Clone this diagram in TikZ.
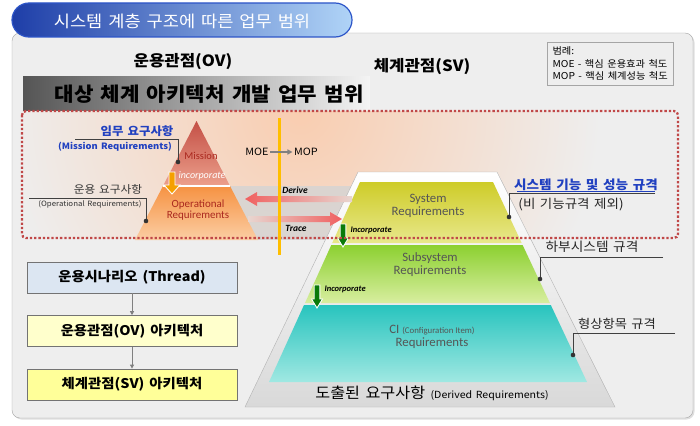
\documentclass[tikz,border=0pt]{standalone}
\usepackage{fontspec}
\setmainfont{Noto Sans CJK KR}[FakeStretch=1.08, WordSpace=1.5]
\newfontfamily\engfont{Carlito}
\usepackage{tikz}
\usetikzlibrary{arrows.meta, positioning, calc, shadows}
\usepackage{xcolor}
\definecolor{panelbg}{RGB}{238,238,238}
\definecolor{panelline}{RGB}{165,165,165}
\definecolor{titledark}{RGB}{30,62,168}
\definecolor{titlelight}{RGB}{176,212,247}
\definecolor{titleline}{RGB}{45,85,200}
\definecolor{bannerdark}{RGB}{85,85,85}
\definecolor{bannerlight}{RGB}{244,244,244}
\definecolor{dotred}{RGB}{192,72,72}
\definecolor{peach}{RGB}{249,205,176}
\definecolor{bandgray}{RGB}{212,212,212}
\definecolor{yellowline}{RGB}{255,190,0}
\definecolor{missiontop}{RGB}{196,80,70}
\definecolor{missionbot}{RGB}{236,160,140}
\definecolor{opertop}{RGB}{246,146,66}
\definecolor{operbot}{RGB}{251,206,164}
\definecolor{redtext}{RGB}{170,40,30}
\definecolor{arrowred}{RGB}{240,96,96}
\definecolor{arrowfade}{RGB}{232,214,208}
\definecolor{orangearrow}{RGB}{245,160,0}
\definecolor{greenarrow}{RGB}{10,122,10}
\definecolor{calloutblue}{RGB}{32,64,192}
\definecolor{layertext}{RGB}{85,85,85}
\definecolor{systop}{RGB}{206,204,40}
\definecolor{sysbot}{RGB}{232,232,140}
\definecolor{subtop}{RGB}{140,208,48}
\definecolor{subbot}{RGB}{216,238,160}
\definecolor{citop}{RGB}{40,196,190}
\definecolor{cibot}{RGB}{160,232,226}
\definecolor{threadfill}{RGB}{220,230,242}
\definecolor{ovfill}{RGB}{255,255,204}
\definecolor{svfill}{RGB}{255,255,153}

\begin{document}
\begin{tikzpicture}[x=1pt, y=-1pt,
  archbox/.style={draw=gray!90!black, minimum width=210pt, minimum height=31pt,
    font=\fontsize{13.3}{15}\selectfont\bfseries},
  boxarrow/.style={-{Triangle[length=4pt, width=4pt]}, gray, line width=1pt},
  callout/.style={black!75, line width=0.8pt},
  layerlabel/.style={layertext, align=center, font=\engfont\fontsize{12.8}{13}\selectfont},
  inclabel/.style={anchor=west, font=\engfont\itshape\bfseries\fontsize{8.5}{9}\selectfont}]
  \useasboundingbox (0,0) rectangle (700,425);

  % panel and title tab
  \draw[panelline, fill=panelbg, rounded corners=8pt,
    drop shadow={opacity=0.25, shadow xshift=1.5pt, shadow yshift=-1.5pt}] (12,33) rectangle (693,418);
  \shade[left color=titledark, right color=titlelight, draw=titleline, line width=1.2pt,
    rounded corners=17pt] (12,3) rectangle (352,37);
  \node[white, font=\fontsize{16.3}{18}\selectfont] (title) at (182,21) {시스템 계층 구조에 따른 업무 범위};

  \node[font=\fontsize{15.5}{17}\selectfont\bfseries] (ovlabel) at (183,62) {운용관점(OV)};
  \node[font=\fontsize{15.5}{17}\selectfont\bfseries] (svlabel) at (422,67) {체계관점(SV)};
  \node[draw=panelline, fill=panelbg, anchor=north west, align=left, inner sep=2.5pt,
    minimum width=126pt, minimum height=43pt, font=\fontsize{9.5}{12.5}\selectfont] (legend) at (547,42)
    {범례:\\MOE - 핵심 운용효과 척도\\MOP - 핵심 체계성능 척도};

  % banner
  \shade[left color=bannerdark, right color=bannerlight] (23,77) rectangle (370,111);
  \node[anchor=west, font=\fontsize{19.6}{22}\selectfont\bfseries] (banner) at (51,94) {대상 체계 아키텍처 개발 업무 범위};

  % scope background
  \begin{scope}
    \clip (22,111) rectangle (678,238);
    \shade[inner color=peach, outer color=panelbg] (300,112) circle (300);
  \end{scope}
  \fill[bandgray, opacity=0.8] (196,186) rectangle (362,240);

  % operational pyramid
  \shade[top color=missiontop, bottom color=missionbot] (196.5,121) -- (230,186) -- (163,186) -- cycle;
  \shade[top color=opertop, bottom color=operbot] (163,186) -- (230,186) -- (258,240) -- (135,240) -- cycle;
  \draw[white, line width=1.2pt] (163,186) -- (230,186);
  \node[redtext, font=\engfont\fontsize{10.5}{11}\selectfont] (mission) at (201,156) {Mission};
  \node[white, font=\engfont\itshape\fontsize{10}{11}\selectfont] (incmission) at (202,176) {incorporate};
  \node[redtext, align=center, font=\engfont\fontsize{11}{11.5}\selectfont] (oper) at (198,210) {Operational\\Requirements};

  % system pyramid
  \shade[top color=white, bottom color=gray!30, draw=gray!60] (358,172) -- (497,172) -- (615,407) -- (245,407) -- cycle;
  \shade[top color=systop, bottom color=sysbot] (360,182) -- (493,182) -- (521.7,243) -- (332.2,243) -- cycle;
  \shade[top color=subtop, bottom color=subbot] (331.3,245) -- (522.6,245) -- (549.9,303) -- (305,303) -- cycle;
  \shade[top color=citop, bottom color=cibot] (304,305) -- (550.8,305) -- (587,382) -- (269,382) -- cycle;
  \node[layerlabel] (sysreq) at (428,206) {System\\Requirements};
  \node[layerlabel] (subreq) at (430,265) {Subsystem\\Requirements};
  \node[layerlabel] (cireq) at (432,337) {CI {\fontsize{8.8}{9}\selectfont (Configuration Item)}\\Requirements};
  \node[font=\fontsize{15}{17}\selectfont] (derived) at (432,393)
    {도출된 요구사항 {\fontsize{9.8}{12}\selectfont (Derived Requirements)}};

  % incorporate arrows
  \foreach \ax/\ay/\al/\sw/\hw/\col in {172/172/22/3/8/orangearrow, 343/224/23/2.8/5.5/greenarrow, 317/285/23/2.8/5.5/greenarrow} {
    \filldraw[fill=\col, draw=white, line width=0.9pt] (\ax-\sw,\ay) -- (\ax+\sw,\ay) -- (\ax+\sw,\ay+\al-9)
      -- (\ax+\hw,\ay+\al-9) -- (\ax,\ay+\al) -- (\ax-\hw,\ay+\al-9) -- (\ax-\sw,\ay+\al-9) -- cycle;
  }
  \node[inclabel] (incsys) at (347,230) {Incorporate};
  \node[inclabel] (incsub) at (321,289) {Incorporate};

  % derive / trace
  \coordinate (dtip) at (245,199);
  \coordinate (dtail) at (352,199);
  \coordinate (ttip) at (342,219);
  \coordinate (ttail) at (248,219);
  \shade[left color=arrowred, right color=arrowfade] (dtip) -- ($(dtip)+(12,-7)$) -- ($(dtip)+(12,-3)$)
    -- ($(dtail)+(0,-3)$) -- ($(dtail)+(0,3)$) -- ($(dtip)+(12,3)$) -- ($(dtip)+(12,7)$) -- cycle;
  \shade[left color=arrowfade, right color=arrowred] (ttip) -- ($(ttip)+(-12,-7)$) -- ($(ttip)+(-12,-3)$)
    -- ($(ttail)+(0,-3)$) -- ($(ttail)+(0,3)$) -- ($(ttip)+(-12,3)$) -- ($(ttip)+(-12,7)$) -- cycle;
  \node[font=\engfont\itshape\bfseries\fontsize{9.5}{10}\selectfont] (derive) at (295,190) {Derive};
  \node[font=\engfont\itshape\bfseries\fontsize{9.5}{10}\selectfont] (trace) at (296,228) {Trace};

  % scope border and MOE/MOP line
  \draw[dotred, line width=2.3pt, dash pattern=on 2.3pt off 2pt, rounded corners=4pt] (22,111) rectangle (678,238);
  \draw[yellowline, line width=3pt] (279,118) -- (279,255);
  \node[inner sep=1.5pt, font=\fontsize{10}{11}\selectfont] (moe) at (257,152) {MOE};
  \node[inner sep=1.5pt, font=\fontsize{10}{11}\selectfont] (mop) at (306,152) {MOP};
  \draw[-{Triangle[length=5pt, width=5pt]}, gray, line width=1.5pt] (moe) -- (mop);

  % callouts, left
  \node[calloutblue, font=\fontsize{11.5}{12}\selectfont\bfseries] (mrko) at (137,131) {임무 요구사항};
  \node[calloutblue, font=\fontsize{8.7}{10}\selectfont\bfseries] (mren) at (115,147) {(Mission Requirements)};
  \coordinate (mrend) at (75,139);
  \coordinate (mrdot) at (178,162);
  \draw[callout] (mrend) -| (mrdot);
  \node[black!80, font=\fontsize{10.8}{12}\selectfont] (orko) at (108,189) {운용 요구사항};
  \node[black!80, font=\fontsize{7.3}{9}\selectfont] (oren) at (90,204) {(Operational Requirements)};
  \coordinate (orend) at (29,198);
  \coordinate (ordot) at (146,221);
  \draw[callout] (orend) -| (ordot);

  % callouts, right
  \node[calloutblue, font=\fontsize{12.6}{14}\selectfont\bfseries] (sysko) at (586,185) {시스템 기능 및 성능 규격};
  \draw[calloutblue, line width=0.8pt] (517,191.5) -- (655,191.5);
  \node[black!85, font=\fontsize{12.5}{14}\selectfont] (sysnote) at (571,205) {(비 기능규격 제외)};
  \coordinate (sysend) at (655,193);
  \coordinate (sysdot) at (509,217);
  \draw[callout] (sysend) -| (sysdot);
  \node[black!85, font=\fontsize{12.7}{14}\selectfont] (subko) at (592,247) {하부시스템 규격};
  \coordinate (subend) at (663,257);
  \coordinate (subdot) at (540,279);
  \draw[callout] (subend) -| (subdot);
  \node[black!85, font=\fontsize{12.3}{14}\selectfont] (ciko) at (617,324) {형상항목 규격};
  \coordinate (ciend) at (675,333);
  \coordinate (cidot) at (573,355);
  \draw[callout] (ciend) -| (cidot);
  \foreach \d in {mrdot, ordot, sysdot, subdot, cidot} {
    \fill[black!80] (\d) circle (2.3);
  }

  % architecture flow
  \node[archbox, fill=threadfill] (thread) at (132,277.5) {운용시나리오 (Thread)};
  \node[archbox, fill=ovfill, below=22pt of thread] (ovarch) {운용관점(OV) 아키텍처};
  \node[archbox, fill=svfill, below=22pt of ovarch] (svarch) {체계관점(SV) 아키텍처};
  \draw[boxarrow] (thread) -- (ovarch);
  \draw[boxarrow] (ovarch) -- (svarch);
\end{tikzpicture}
\end{document}
